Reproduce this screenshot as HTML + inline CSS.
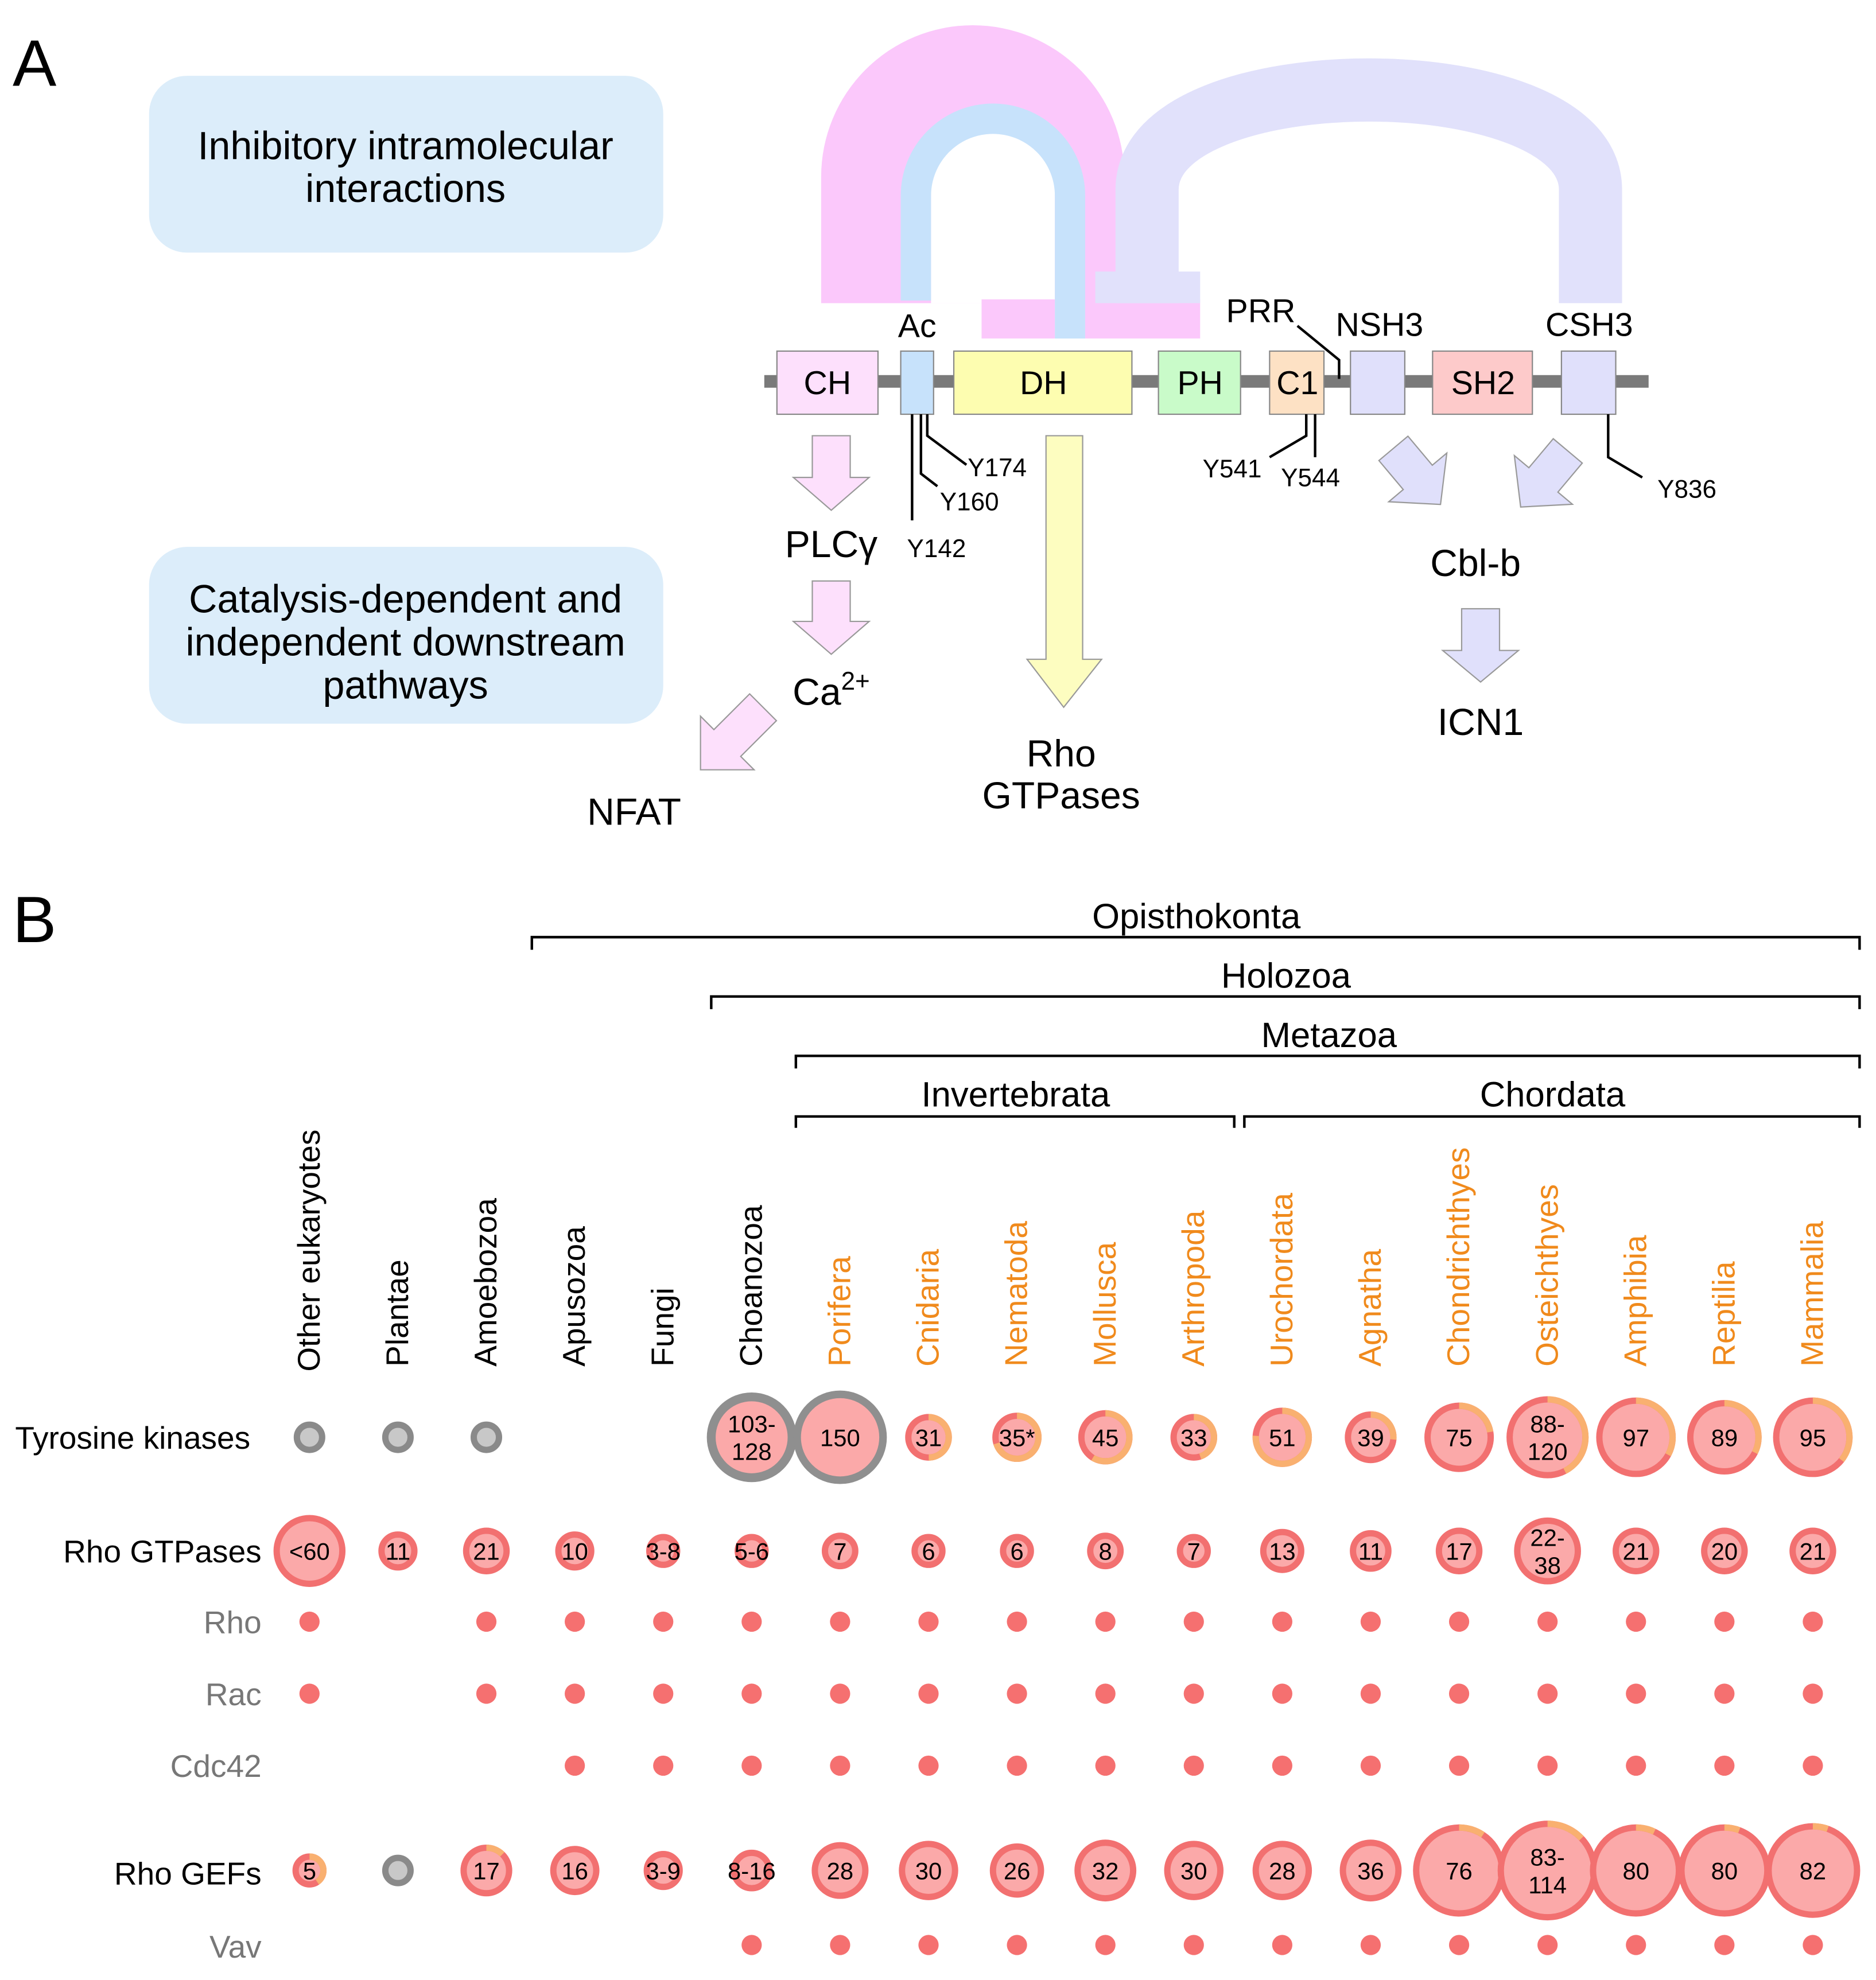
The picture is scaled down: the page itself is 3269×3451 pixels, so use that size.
<!DOCTYPE html>
<html><head><meta charset="utf-8"><style>html,body{margin:0;padding:0;background:#fff}svg{display:block}text{font-family:"Liberation Sans",sans-serif}</style></head><body>
<svg width="3269" height="3451" viewBox="0 0 1485 1567.7" preserveAspectRatio="none" xmlns="http://www.w3.org/2000/svg">
<text x="10" y="68" font-size="52">A</text>
<rect x="118" y="60" width="407" height="140" rx="30" fill="#dcedfa"/>
<text x="321" y="126" font-size="31" text-anchor="middle">Inhibitory intramolecular</text>
<text x="321" y="160" font-size="31" text-anchor="middle">interactions</text>
<rect x="118" y="433" width="407" height="140" rx="30" fill="#dcedfa"/>
<text x="321" y="485" font-size="31" text-anchor="middle">Catalysis-dependent and</text>
<text x="321" y="519" font-size="31" text-anchor="middle">independent downstream</text>
<text x="321" y="553" font-size="31" text-anchor="middle">pathways</text>
<path d="M650 240 V140 A120 120 0 0 1 890 140 V240 Z" fill="#fbc8fb"/>
<path d="M737 240 V150 A49 49 0 0 1 835 150 V240 Z" fill="#fff"/>
<path d="M725 238 V155 A61 61 0 0 1 847 155 V268" fill="none" stroke="#c7e2fb" stroke-width="24"/>
<rect x="777" y="237" width="58" height="31" fill="#fbc8fb"/>
<rect x="859" y="237" width="91" height="31" fill="#fbc8fb"/>
<path d="M908 240 V150 C908 45 1259 45 1259 150 V240" fill="none" stroke="#e1e1fb" stroke-width="50"/>
<rect x="867" y="215" width="83" height="25" fill="#e1e1fb"/>
<line x1="605" y1="302" x2="1305" y2="302" stroke="#7a7a7a" stroke-width="10"/>
<g stroke="#888" stroke-width="1">
<rect x="615" y="278" width="80" height="50" fill="#fde0fc"/>
<rect x="713" y="278" width="26" height="50" fill="#c7e2fb"/>
<rect x="755" y="278" width="141" height="50" fill="#fdfdb0"/>
<rect x="917" y="278" width="65" height="50" fill="#c9fbc9"/>
<rect x="1005" y="278" width="43" height="50" fill="#fde1c4"/>
<rect x="1069" y="278" width="43" height="50" fill="#e0e0fb"/>
<rect x="1134" y="278" width="79" height="50" fill="#fdcaca"/>
<rect x="1236" y="278" width="43" height="50" fill="#e0e0fb"/>
</g>
<g font-size="26" text-anchor="middle">
<text x="655" y="312">CH</text><text x="826" y="312">DH</text><text x="950" y="312">PH</text><text x="1027" y="312">C1</text><text x="1174" y="312">SH2</text>
<text x="726" y="267">Ac</text><text x="998" y="255">PRR</text><text x="1092" y="266">NSH3</text><text x="1258" y="266">CSH3</text>
</g>
<g fill="none" stroke="#000" stroke-width="2">
<path d="M722 328 V412"/><path d="M729 328 V375 L742 385"/><path d="M734 328 V345 L765 368"/>
<path d="M1034 328 V345 L1005 362"/><path d="M1041 328 V362"/>
<path d="M1273 328 V362 L1300 378"/>
<path d="M1027 258 L1060 285 V300"/>
</g>
<g font-size="20">
<text x="766" y="377">Y174</text><text x="744" y="404">Y160</text><text x="718" y="441">Y142</text>
<text x="952" y="378">Y541</text><text x="1014" y="385">Y544</text><text x="1312" y="394">Y836</text>
</g>
<g stroke="#999" stroke-width="1">
<polygon points="643,345 673,345 673,378 688,378 658,404 628,378 643,378" fill="#fde0fc"/>
<polygon points="643,460 673,460 673,492 688,492 658,518 628,492 643,492" fill="#fde0fc"/>
<polygon points="828,345 857,345 857,522 872,522 842,560 813,522 828,522" fill="#fdfdc0"/>
<polygon points="1157,482 1187,482 1187,515 1202,515 1172,540 1142,515 1157,515" fill="#e0e0fb"/>
<polygon points="-15,0 15,0 15,40 30,40 0,70 -30,40 -15,40" fill="#fde0fc" transform="translate(604,560) rotate(45)"/>
<polygon points="-15,0 15,0 15,30 30,30 0,58 -30,30 -15,30" fill="#e0e0fb" transform="translate(1103,355) rotate(-40)"/>
<polygon points="-15,0 15,0 15,30 30,30 0,58 -30,30 -15,30" fill="#e0e0fb" transform="translate(1241,357) rotate(40)"/>
</g>
<g font-size="30" text-anchor="middle">
<text x="658" y="441">PLCγ</text>
<text x="658" y="558">Ca<tspan font-size="20" dy="-12">2+</tspan></text>
<text x="502" y="653">NFAT</text>
<text x="840" y="607">Rho</text><text x="840" y="640">GTPases</text>
<text x="1168" y="456">Cbl-b</text><text x="1172" y="582">ICN1</text>
</g>
<text x="10" y="746" font-size="52">B</text>
<g fill="none" stroke="#000" stroke-width="2">
<path d="M421 752 V742 H1472 V752"/><path d="M563 799 V789 H1472 V799"/><path d="M630 846 V836 H1472 V846"/>
<path d="M630 893 V884 H977 V893"/><path d="M985 893 V884 H1472 V893"/>
</g>
<g font-size="28" text-anchor="middle">
<text x="947" y="735">Opisthokonta</text><text x="1018" y="782">Holozoa</text><text x="1052" y="829">Metazoa</text>
<text x="804" y="876">Invertebrata</text><text x="1229" y="876">Chordata</text>
</g>
<g font-size="25" text-anchor="start">
<text transform="translate(253,1086) rotate(-90)">Other eukaryotes</text>
<text transform="translate(323,1082) rotate(-90)">Plantae</text>
<text transform="translate(393,1082) rotate(-90)">Amoebozoa</text>
<text transform="translate(463,1082) rotate(-90)">Apusozoa</text>
<text transform="translate(533,1082) rotate(-90)">Fungi</text>
<text transform="translate(603,1082) rotate(-90)">Choanozoa</text>
<g fill="#f08a1c">
<text transform="translate(673,1082) rotate(-90)">Porifera</text>
<text transform="translate(743,1082) rotate(-90)">Cnidaria</text>
<text transform="translate(813,1082) rotate(-90)">Nematoda</text>
<text transform="translate(883,1082) rotate(-90)">Mollusca</text>
<text transform="translate(953,1082) rotate(-90)">Arthropoda</text>
<text transform="translate(1023,1082) rotate(-90)">Urochordata</text>
<text transform="translate(1093,1082) rotate(-90)">Agnatha</text>
<text transform="translate(1163,1082) rotate(-90)">Chondrichthyes</text>
<text transform="translate(1233,1082) rotate(-90)">Osteichthyes</text>
<text transform="translate(1303,1082) rotate(-90)">Amphibia</text>
<text transform="translate(1373,1082) rotate(-90)">Reptilia</text>
<text transform="translate(1443,1082) rotate(-90)">Mammalia</text>
</g></g>
<g font-size="25">
<text x="12" y="1147">Tyrosine kinases</text>
<g text-anchor="end">
<text x="207" y="1237">Rho GTPases</text>
<text x="207" y="1293" fill="#777">Rho</text><text x="207" y="1350" fill="#777">Rac</text><text x="207" y="1407" fill="#777">Cdc42</text>
<text x="207" y="1492">Rho GEFs</text><text x="207" y="1550" fill="#777">Vav</text>
</g></g>
<g fill="#c8c8c8" stroke="#8a8a8a" stroke-width="5">
<circle cx="245" cy="1138" r="10"/><circle cx="315" cy="1138" r="10"/><circle cx="385" cy="1138" r="10"/>
<circle cx="315" cy="1481" r="10"/>
</g>
<g fill="#fba9a9" stroke="#f27070" stroke-width="5">
<circle cx="595" cy="1138" r="32" stroke="#8f8f8f" stroke-width="7"/>
<circle cx="665" cy="1138" r="34" stroke="#8f8f8f" stroke-width="6"/>
<circle cx="735" cy="1138" r="16"/><circle cx="805" cy="1138" r="17"/><circle cx="875" cy="1138" r="19"/><circle cx="945" cy="1138" r="16"/>
<circle cx="1015" cy="1138" r="21"/><circle cx="1085" cy="1138" r="18"/><circle cx="1155" cy="1138" r="25"/><circle cx="1225" cy="1138" r="30"/>
<circle cx="1295" cy="1138" r="29"/><circle cx="1365" cy="1138" r="27"/><circle cx="1435" cy="1138" r="29"/>
</g>
<g fill="none" stroke="#f9b070" stroke-width="5">
<circle cx="735" cy="1138" r="16" stroke-dasharray="50 999" transform="rotate(-90 735 1138)"/>
<circle cx="805" cy="1138" r="17" stroke-dasharray="75 999" transform="rotate(-90 805 1138)"/>
<circle cx="875" cy="1138" r="19" stroke-dasharray="70 999" transform="rotate(-90 875 1138)"/>
<circle cx="945" cy="1138" r="16" stroke-dasharray="45 999" transform="rotate(-90 945 1138)"/>
<circle cx="1015" cy="1138" r="21" stroke-dasharray="100 999" transform="rotate(-90 1015 1138)"/>
<circle cx="1085" cy="1138" r="18" stroke-dasharray="30 999" transform="rotate(-90 1085 1138)"/>
<circle cx="1155" cy="1138" r="25" stroke-dasharray="35 999" transform="rotate(-90 1155 1138)"/>
<circle cx="1225" cy="1138" r="30" stroke-dasharray="80 999" transform="rotate(-90 1225 1138)"/>
<circle cx="1295" cy="1138" r="29" stroke-dasharray="60 999" transform="rotate(-90 1295 1138)"/>
<circle cx="1365" cy="1138" r="27" stroke-dasharray="55 999" transform="rotate(-90 1365 1138)"/>
<circle cx="1435" cy="1138" r="29" stroke-dasharray="65 999" transform="rotate(-90 1435 1138)"/>
</g>
<g fill="#fba9a9" stroke="#f27070" stroke-width="5">
<circle cx="245" cy="1228" r="26"/><circle cx="315" cy="1228" r="13"/><circle cx="385" cy="1228" r="16"/><circle cx="455" cy="1228" r="13"/>
<circle cx="525" cy="1228" r="11"/><circle cx="595" cy="1228" r="11"/><circle cx="665" cy="1228" r="12"/><circle cx="735" cy="1228" r="11"/>
<circle cx="805" cy="1228" r="11"/><circle cx="875" cy="1228" r="12"/><circle cx="945" cy="1228" r="11"/><circle cx="1015" cy="1228" r="15"/>
<circle cx="1085" cy="1228" r="14"/><circle cx="1155" cy="1228" r="16"/><circle cx="1225" cy="1228" r="24"/><circle cx="1295" cy="1228" r="16"/>
<circle cx="1365" cy="1228" r="16"/><circle cx="1435" cy="1228" r="16"/>
</g>
<g fill="#f57070">
<circle cx="245" cy="1284" r="8"/><circle cx="385" cy="1284" r="8"/><circle cx="455" cy="1284" r="8"/><circle cx="525" cy="1284" r="8"/><circle cx="595" cy="1284" r="8"/><circle cx="665" cy="1284" r="8"/><circle cx="735" cy="1284" r="8"/><circle cx="805" cy="1284" r="8"/><circle cx="875" cy="1284" r="8"/><circle cx="945" cy="1284" r="8"/><circle cx="1015" cy="1284" r="8"/><circle cx="1085" cy="1284" r="8"/><circle cx="1155" cy="1284" r="8"/><circle cx="1225" cy="1284" r="8"/><circle cx="1295" cy="1284" r="8"/><circle cx="1365" cy="1284" r="8"/><circle cx="1435" cy="1284" r="8"/>
<circle cx="245" cy="1341" r="8"/><circle cx="385" cy="1341" r="8"/><circle cx="455" cy="1341" r="8"/><circle cx="525" cy="1341" r="8"/><circle cx="595" cy="1341" r="8"/><circle cx="665" cy="1341" r="8"/><circle cx="735" cy="1341" r="8"/><circle cx="805" cy="1341" r="8"/><circle cx="875" cy="1341" r="8"/><circle cx="945" cy="1341" r="8"/><circle cx="1015" cy="1341" r="8"/><circle cx="1085" cy="1341" r="8"/><circle cx="1155" cy="1341" r="8"/><circle cx="1225" cy="1341" r="8"/><circle cx="1295" cy="1341" r="8"/><circle cx="1365" cy="1341" r="8"/><circle cx="1435" cy="1341" r="8"/>
<circle cx="455" cy="1398" r="8"/><circle cx="525" cy="1398" r="8"/><circle cx="595" cy="1398" r="8"/><circle cx="665" cy="1398" r="8"/><circle cx="735" cy="1398" r="8"/><circle cx="805" cy="1398" r="8"/><circle cx="875" cy="1398" r="8"/><circle cx="945" cy="1398" r="8"/><circle cx="1015" cy="1398" r="8"/><circle cx="1085" cy="1398" r="8"/><circle cx="1155" cy="1398" r="8"/><circle cx="1225" cy="1398" r="8"/><circle cx="1295" cy="1398" r="8"/><circle cx="1365" cy="1398" r="8"/><circle cx="1435" cy="1398" r="8"/>
<circle cx="595" cy="1540" r="8"/><circle cx="665" cy="1540" r="8"/><circle cx="735" cy="1540" r="8"/><circle cx="805" cy="1540" r="8"/><circle cx="875" cy="1540" r="8"/><circle cx="945" cy="1540" r="8"/><circle cx="1015" cy="1540" r="8"/><circle cx="1085" cy="1540" r="8"/><circle cx="1155" cy="1540" r="8"/><circle cx="1225" cy="1540" r="8"/><circle cx="1295" cy="1540" r="8"/><circle cx="1365" cy="1540" r="8"/><circle cx="1435" cy="1540" r="8"/>
</g>
<g fill="#fba9a9" stroke="#f27070" stroke-width="5">
<circle cx="245" cy="1481" r="11"/><circle cx="385" cy="1481" r="18"/><circle cx="455" cy="1481" r="17"/><circle cx="525" cy="1481" r="13"/>
<circle cx="595" cy="1481" r="14"/><circle cx="665" cy="1481" r="20"/><circle cx="735" cy="1481" r="21"/><circle cx="805" cy="1481" r="19"/>
<circle cx="875" cy="1481" r="22"/><circle cx="945" cy="1481" r="21"/><circle cx="1015" cy="1481" r="21"/><circle cx="1085" cy="1481" r="22"/>
<circle cx="1155" cy="1481" r="34"/><circle cx="1225" cy="1481" r="37"/><circle cx="1295" cy="1481" r="34"/><circle cx="1365" cy="1481" r="34"/><circle cx="1435" cy="1481" r="35"/>
</g>
<g fill="none" stroke="#f9b070" stroke-width="5">
<circle cx="245" cy="1481" r="11" stroke-dasharray="28 999" transform="rotate(-90 245 1481)"/>
<circle cx="385" cy="1481" r="18" stroke-dasharray="14 999" transform="rotate(-90 385 1481)"/>
<circle cx="1155" cy="1481" r="34" stroke-dasharray="20 999" transform="rotate(-90 1155 1481)"/>
<circle cx="1225" cy="1481" r="37" stroke-dasharray="30 999" transform="rotate(-90 1225 1481)"/>
<circle cx="1295" cy="1481" r="34" stroke-dasharray="15 999" transform="rotate(-90 1295 1481)"/>
<circle cx="1365" cy="1481" r="34" stroke-dasharray="12 999" transform="rotate(-90 1365 1481)"/>
<circle cx="1435" cy="1481" r="35" stroke-dasharray="12 999" transform="rotate(-90 1435 1481)"/>
</g>
<g font-size="19" text-anchor="middle">
<text x="595" y="1134">103-</text><text x="595" y="1156">128</text>
<text x="665" y="1145">150</text><text x="735" y="1145">31</text><text x="805" y="1145">35*</text><text x="875" y="1145">45</text><text x="945" y="1145">33</text>
<text x="1015" y="1145">51</text><text x="1085" y="1145">39</text><text x="1155" y="1145">75</text>
<text x="1225" y="1134">88-</text><text x="1225" y="1156">120</text>
<text x="1295" y="1145">97</text><text x="1365" y="1145">89</text><text x="1435" y="1145">95</text>
<text x="245" y="1235">&lt;60</text><text x="315" y="1235">11</text><text x="385" y="1235">21</text><text x="455" y="1235">10</text><text x="525" y="1235">3-8</text><text x="595" y="1235">5-6</text>
<text x="665" y="1235">7</text><text x="735" y="1235">6</text><text x="805" y="1235">6</text><text x="875" y="1235">8</text><text x="945" y="1235">7</text><text x="1015" y="1235">13</text><text x="1085" y="1235">11</text><text x="1155" y="1235">17</text>
<text x="1225" y="1224">22-</text><text x="1225" y="1246">38</text>
<text x="1295" y="1235">21</text><text x="1365" y="1235">20</text><text x="1435" y="1235">21</text>
<text x="245" y="1488">5</text><text x="385" y="1488">17</text><text x="455" y="1488">16</text><text x="525" y="1488">3-9</text><text x="595" y="1488">8-16</text>
<text x="665" y="1488">28</text><text x="735" y="1488">30</text><text x="805" y="1488">26</text><text x="875" y="1488">32</text><text x="945" y="1488">30</text><text x="1015" y="1488">28</text><text x="1085" y="1488">36</text><text x="1155" y="1488">76</text>
<text x="1225" y="1477">83-</text><text x="1225" y="1499">114</text>
<text x="1295" y="1488">80</text><text x="1365" y="1488">80</text><text x="1435" y="1488">82</text>
</g>
</svg>
</body></html>
